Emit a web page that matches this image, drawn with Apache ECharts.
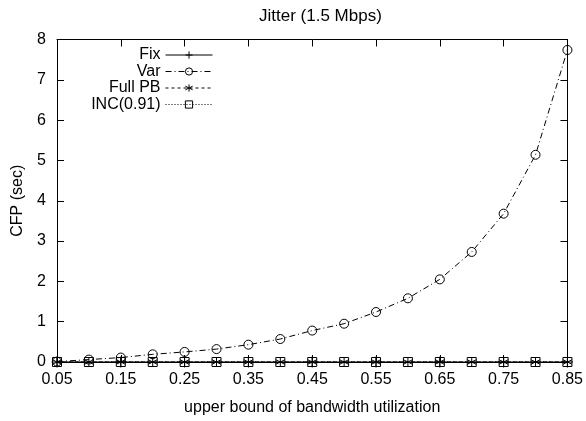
<!DOCTYPE html>
<html>
<head>
<meta charset="utf-8">
<script src="https://cdn.jsdelivr.net/npm/echarts@6/dist/echarts.min.js"></script>
<style>html,body{margin:0;padding:0;background:#fff}#c{width:586px;height:421px}</style>
</head>
<body>
<div id="c"></div>
<script>
// ---- data ----
const xAll = [0.05,0.10,0.15,0.20,0.25,0.30,0.35,0.40,0.45,0.50,0.55,0.60,0.65,0.70,0.75,0.80,0.85];
const xFix = [0.05,0.15,0.25,0.35,0.45,0.55,0.65,0.75,0.85];
const fixVals = [0,0,0,0,0,0,0,0,0];
const varVals = [0.01,0.06,0.11,0.19,0.25,0.32,0.43,0.57,0.78,0.95,1.24,1.58,2.05,2.73,3.68,5.14,7.74];
const fullPBVals = [0,0,0,0,0,0,0,0,0,0,0,0,0,0,0,0,0];
const incVals = [0,0,0,0,0,0,0,0,0,0,0,0,0,0,0,0,0];
const seriesNames = ['Fix','Var','Full PB','INC(0.91)'];
const xTickLabels = ['0.05','0.15','0.25','0.35','0.45','0.55','0.65','0.75','0.85'];

const pair = (xs, ys) => xs.map((x, i) => [x, ys[i]]);
const FONT = 'Liberation Sans, Arial, Helvetica, sans-serif';
const chart = echarts.init(document.getElementById('c'));

const plusPath = 'path://M0,-10L0,10M-10,0L10,0';
const starPath = 'path://M0,-10L0,10M-8.66,-5L8.66,5M-8.66,5L8.66,-5';

const legendRows = [55, 71.5, 88, 104.5];
const legends = seriesNames.map((n, i) => ({
  data: [n],
  orient: 'vertical',
  align: 'right',
  right: 373,
  top: legendRows[i] - 8,
  itemWidth: 47,
  itemHeight: 9,
  itemGap: 10,
  padding: 0,
  selectedMode: false,
  lineStyle: { width: 1 },
  itemStyle: { borderWidth: 1 },
  textStyle: { fontFamily: FONT, fontSize: 16, color: '#000', padding: [0, 0, 0, 0] }
}));

const xCommon = {
  type: 'value', min: 0.05, max: 0.85, interval: 0.1,
  splitLine: { show: false },
  axisLine: { show: true, onZero: false, lineStyle: { color: '#000', width: 1 } },
  axisTick: { show: true, inside: true, length: 7, lineStyle: { color: '#000' } }
};
const yCommon = {
  type: 'value', min: 0, max: 8, interval: 1,
  splitLine: { show: false },
  axisLine: { show: true, onZero: false, lineStyle: { color: '#000', width: 1 } },
  axisTick: { show: true, inside: true, length: 7, lineStyle: { color: '#000' } }
};

chart.setOption({
  animation: false,
  backgroundColor: '#fff',
  title: {
    text: 'Jitter (1.5 Mbps)',
    left: 254, top: 3,
    textStyle: { fontFamily: FONT, fontSize: 17, fontWeight: 'normal', color: '#000' }
  },
  legend: legends,
  grid: { left: 57, right: 17, top: 39.5, bottom: 57, containLabel: false },
  xAxis: [
    Object.assign({}, xCommon, {
      position: 'bottom',
      name: 'upper bound of bandwidth utilization',
      nameLocation: 'middle', nameGap: 38,
      nameTextStyle: { fontFamily: FONT, fontSize: 16, color: '#000' },
      axisLabel: { fontFamily: FONT, fontSize: 16, color: '#000', margin: 10,
        formatter: v => v.toFixed(2) }
    }),
    Object.assign({}, xCommon, { position: 'top', axisLabel: { show: false } })
  ],
  yAxis: [
    Object.assign({}, yCommon, {
      position: 'left',
      name: 'CFP (sec)', nameLocation: 'middle', nameGap: 31, nameRotate: 90,
      nameTextStyle: { fontFamily: FONT, fontSize: 16, color: '#000' },
      axisLabel: { fontFamily: FONT, fontSize: 16, color: '#000', margin: 11 }
    }),
    Object.assign({}, yCommon, { position: 'right', axisLabel: { show: false } })
  ],
  series: [
    {
      name: 'Fix', type: 'line', data: pair(xFix, fixVals),
      symbol: plusPath, symbolSize: 11, showAllSymbol: true,
      lineStyle: { color: '#000', width: 1, type: 'solid' },
      itemStyle: { color: 'rgba(0,0,0,0)', borderColor: '#000', borderWidth: 1 },
      z: 5
    },
    {
      name: 'Var', type: 'line', data: pair(xAll, varVals),
      symbol: 'circle', symbolSize: 9, showAllSymbol: true,
      lineStyle: { color: '#000', width: 1, type: [6, 3, 1, 3] },
      itemStyle: { color: 'rgba(255,255,255,0)', borderColor: '#000', borderWidth: 1 },
      z: 4
    },
    {
      name: 'Full PB', type: 'line', data: pair(xAll, fullPBVals),
      symbol: starPath, symbolSize: 9, showAllSymbol: true,
      lineStyle: { color: '#000', width: 1, type: [3, 3] },
      itemStyle: { color: 'rgba(0,0,0,0)', borderColor: '#000', borderWidth: 1 },
      z: 3
    },
    {
      name: 'INC(0.91)', type: 'line', data: pair(xAll, incVals),
      symbol: 'rect', symbolSize: 9, showAllSymbol: true,
      lineStyle: { color: '#000', width: 1, type: [1, 2] },
      itemStyle: { color: 'rgba(255,255,255,0)', borderColor: '#000', borderWidth: 1 },
      z: 2
    }
  ]
});
</script>
</body>
</html>
